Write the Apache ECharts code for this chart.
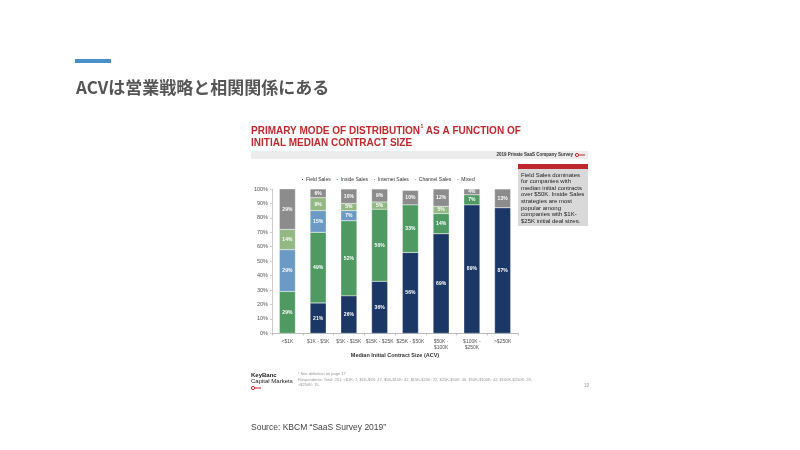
<!DOCTYPE html>
<html><head><meta charset="utf-8">
<script src="https://cdn.jsdelivr.net/npm/echarts@6/dist/echarts.min.js"></script>
<style>html,body{margin:0;padding:0;background:#fff}#c{width:800px;height:450px}</style>
</head><body><div id="c"></div>
<script>
const categories = ['<$1K', '$1K - $5K', '$5K - $15K', '$15K - $25K', '$25K - $50K', '$50K -\n$100K', '$100K -\n$250K', '>$250K'];
const fieldSales    = [null, 21, 26, 36, 56, 69, 89, 87];
const insideSales   = [29, 49, 52, 50, 33, 14, 7, null];
const internetSales = [29, 15, 7, null, null, null, null, null];
const channelSales  = [14, 9, 5, 5, null, 5, null, null];
const mixed         = [29, 6, 10, 9, 10, 12, 4, 13];
const seriesNames = ['Field Sales', 'Inside Sales', 'Internet Sales', 'Channel Sales', 'Mixed'];
const seriesColors = ['#1b3766', '#4f9a63', '#6b9ac4', '#93b884', '#8c8c8c'];
const seriesData = [fieldSales, insideSales, internetSales, channelSales, mixed];
const noteLines = ['Field Sales dominates', 'for companies with', 'median initial contracts', 'over $50K. Inside Sales', 'strategies are most', 'popular among', 'companies with $1K-', '$25K initial deal sizes.'];

const chart = echarts.init(document.getElementById('c'));
const F = 'Liberation Sans, Arial, sans-serif';

const graphics = [
  {type:'rect', shape:{x:75,y:59,width:36,height:4}, style:{fill:'#4a90c8'}},
  {type:'text', style:{x:76,y:88,text:'ACVは営業戦略と相関関係にある', font:'bold 17px "Noto Sans CJK JP", sans-serif', fill:'#555', textVerticalAlign:'middle'}},
  {type:'text', style:{x:251,y:131,text:'PRIMARY MODE OF DISTRIBUTION', font:'bold 10px '+F, fill:'#c0282d', textVerticalAlign:'middle'}},
  {type:'text', style:{x:420.5,y:127,text:'1', font:'bold 5px '+F, fill:'#c0282d', textVerticalAlign:'middle'}},
  {type:'text', style:{x:423,y:131,text:' AS A FUNCTION OF', font:'bold 10px '+F, fill:'#c0282d', textVerticalAlign:'middle'}},
  {type:'text', style:{x:251,y:143,text:'INITIAL MEDIAN CONTRACT SIZE', font:'bold 10px '+F, fill:'#c0282d', textVerticalAlign:'middle'}},
  {type:'rect', shape:{x:251,y:151,width:337,height:8}, style:{fill:'#ececec'}},
  {type:'text', style:{x:573,y:155,text:'2019 Private SaaS Company Survey', font:'bold 4.5px '+F, fill:'#333', textAlign:'right', textVerticalAlign:'middle'}},
  {type:'circle', shape:{cx:577,cy:155,r:1.6}, style:{fill:'none', stroke:'#c0282d', lineWidth:1}},
  {type:'line', shape:{x1:578.6,y1:155,x2:585,y2:155}, style:{stroke:'#c0282d', lineWidth:1}},
  {type:'rect', shape:{x:518,y:164,width:70,height:5}, style:{fill:'#c0282d'}},
  {type:'rect', shape:{x:518,y:169,width:70,height:57}, style:{fill:'#d9d9d9'}},
  {type:'text', style:{x:395,y:355,text:'Median Initial Contract Size (ACV)', font:'bold 5.5px '+F, fill:'#333', textAlign:'center', textVerticalAlign:'middle'}},
  {type:'text', style:{x:251,y:375,text:'KeyBanc', font:'bold 6px '+F, fill:'#222', textVerticalAlign:'middle'}},
  {type:'text', style:{x:251,y:381,text:'Capital Markets', font:'6px '+F, fill:'#222', textVerticalAlign:'middle'}},
  {type:'circle', shape:{cx:253,cy:388,r:1.6}, style:{fill:'none', stroke:'#c0282d', lineWidth:1}},
  {type:'line', shape:{x1:254.6,y1:388,x2:261,y2:388}, style:{stroke:'#c0282d', lineWidth:1}},
  {type:'text', style:{x:298,y:374,text:'¹ See definition on page 17', font:'4px '+F, fill:'#999', textVerticalAlign:'middle'}},
  {type:'text', style:{x:298,y:380,text:'Respondents: Total: 251, <$1K: 7, $1K-$5K: 47, $5K-$15K: 42, $15K-$25K: 22, $25K-$50K: 46, $50K-$100K: 42, $100K-$250K: 28,', font:'4px '+F, fill:'#999', textVerticalAlign:'middle'}},
  {type:'text', style:{x:298,y:385,text:'>$250K: 15.', font:'4px '+F, fill:'#999', textVerticalAlign:'middle'}},
  {type:'text', style:{x:584,y:386,text:'19', font:'4.5px '+F, fill:'#999', textVerticalAlign:'middle'}},
  {type:'text', style:{x:251,y:428,text:'Source: KBCM “SaaS Survey 2019”', font:'8.5px '+F, fill:'#444', textVerticalAlign:'middle'}}
];
noteLines.forEach((t, i) => graphics.push({type:'text', style:{x:521, y:175 + i*6.6, text:t, font:'6px '+F, fill:'#222', textVerticalAlign:'middle'}}));

chart.setOption({
  animation: false,
  backgroundColor: '#fff',
  legend: {
    top: 172, left: 295, itemWidth: 3, itemHeight: 3, itemGap: 4, icon: 'rect',
    textStyle: {fontSize: 5, color: '#333', fontFamily: F, padding: [0, 0, 0, -3]},
    data: seriesNames
  },
  grid: {left: 272, right: 282, top: 189, bottom: 116.7, containLabel: false},
  xAxis: {
    type: 'category', data: categories,
    axisLine: {lineStyle: {color: '#bbb'}},
    axisTick: {show: true, lineStyle: {color: '#bbb'}, length: 2},
    axisLabel: {fontSize: 5, color: '#555', fontFamily: F, margin: 5, interval: 0, lineHeight: 6.5}
  },
  yAxis: {
    type: 'value', min: 0, max: 100, interval: 10,
    axisLine: {show: true, lineStyle: {color: '#ccc'}},
    axisTick: {show: true, lineStyle: {color: '#ccc'}, length: 2},
    splitLine: {show: false},
    axisLabel: {formatter: '{value}%', fontSize: 5.5, color: '#555', fontFamily: F, margin: 4}
  },
  series: seriesNames.map((n, i) => ({
    name: n, type: 'bar', stack: 'a', barWidth: 16,
    data: seriesData[i],
    itemStyle: {color: seriesColors[i], borderColor: '#fff', borderWidth: 0.3},
    label: {show: true, position: 'inside', formatter: '{c}%', fontSize: 5, fontWeight: 'bold', color: '#fff', fontFamily: F}
  })),
  graphic: graphics
});
</script></body></html>
